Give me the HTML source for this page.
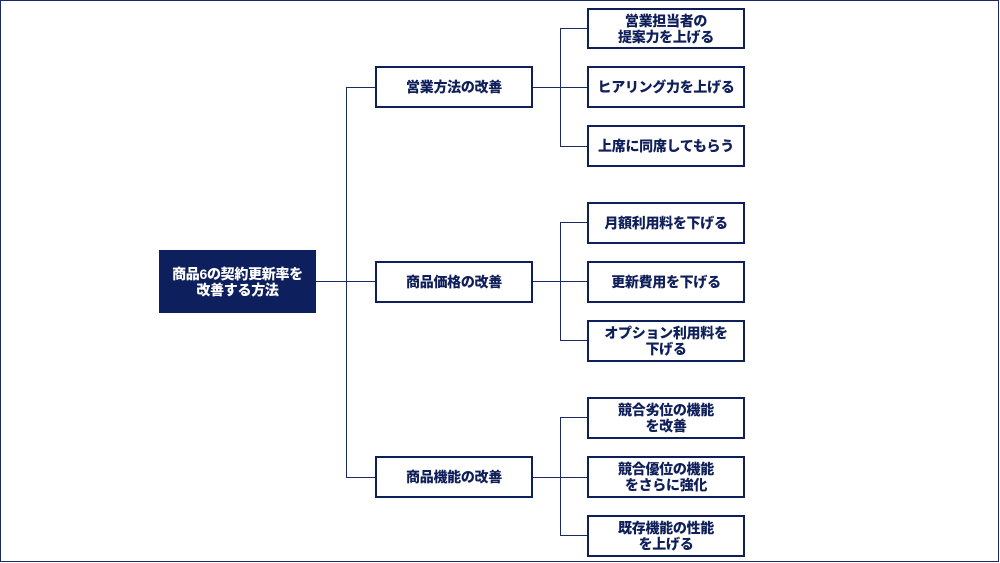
<!DOCTYPE html>
<html><head><meta charset="utf-8"><style>
body{margin:0;width:1000px;height:563px;overflow:hidden;background:#fff;font-family:"Liberation Sans","Noto Sans CJK JP",sans-serif;}
.frame{position:absolute;left:0;top:0;width:997px;height:560px;border:1.5px solid #1a2a66;}
.b{position:absolute;box-sizing:border-box;border:2.5px solid #0f1f5a;background:#fff;color:#0f1f5a;font-weight:900;font-size:14px;line-height:16px;display:flex;align-items:center;justify-content:center;text-align:center;letter-spacing:-0.3px;}
.r{background:#0d1f5c;color:#fff;border:none;}
.l{position:absolute;background:#1a2a66;}
</style></head><body>
<div class="frame"></div>
<div class="l" style="left:316px;top:281px;width:59px;height:1.3px"></div>
<div class="l" style="left:346px;top:87px;width:1.3px;height:391px"></div>
<div class="l" style="left:346px;top:87px;width:29px;height:1.3px"></div>
<div class="l" style="left:346px;top:477px;width:29px;height:1.3px"></div>
<div class="l" style="left:533px;top:87px;width:54px;height:1.3px"></div>
<div class="l" style="left:533px;top:281px;width:54px;height:1.3px"></div>
<div class="l" style="left:533px;top:477px;width:54px;height:1.3px"></div>
<div class="l" style="left:560px;top:28px;width:1.3px;height:118px"></div>
<div class="l" style="left:560px;top:28px;width:27px;height:1.3px"></div>
<div class="l" style="left:560px;top:146px;width:27px;height:1.3px"></div>
<div class="l" style="left:560px;top:222px;width:1.3px;height:118px"></div>
<div class="l" style="left:560px;top:222px;width:27px;height:1.3px"></div>
<div class="l" style="left:560px;top:340px;width:27px;height:1.3px"></div>
<div class="l" style="left:560px;top:417px;width:1.3px;height:118px"></div>
<div class="l" style="left:560px;top:417px;width:27px;height:1.3px"></div>
<div class="l" style="left:560px;top:535px;width:27px;height:1.3px"></div>
<div class="b r" style="left:159px;top:250px;width:157px;height:63px">商品6の契約更新率を<br>改善する方法</div>
<div class="b" style="left:375px;top:66px;width:158px;height:42px">営業方法の改善</div>
<div class="b" style="left:375px;top:261px;width:158px;height:42px">商品価格の改善</div>
<div class="b" style="left:375px;top:456px;width:158px;height:42px">商品機能の改善</div>
<div class="b" style="left:587px;top:8px;width:158px;height:41px">営業担当者の<br>提案力を上げる</div>
<div class="b" style="left:587px;top:66px;width:158px;height:42px">ヒアリング力を上げる</div>
<div class="b" style="left:587px;top:125px;width:158px;height:42px">上席に同席してもらう</div>
<div class="b" style="left:587px;top:202px;width:158px;height:42px">月額利用料を下げる</div>
<div class="b" style="left:587px;top:261px;width:158px;height:42px">更新費用を下げる</div>
<div class="b" style="left:587px;top:320px;width:158px;height:42px">オプション利用料を<br>下げる</div>
<div class="b" style="left:587px;top:397px;width:158px;height:42px">競合劣位の機能<br>を改善</div>
<div class="b" style="left:587px;top:456px;width:158px;height:42px">競合優位の機能<br>をさらに強化</div>
<div class="b" style="left:587px;top:515px;width:158px;height:42px">既存機能の性能<br>を上げる</div>
</body></html>
